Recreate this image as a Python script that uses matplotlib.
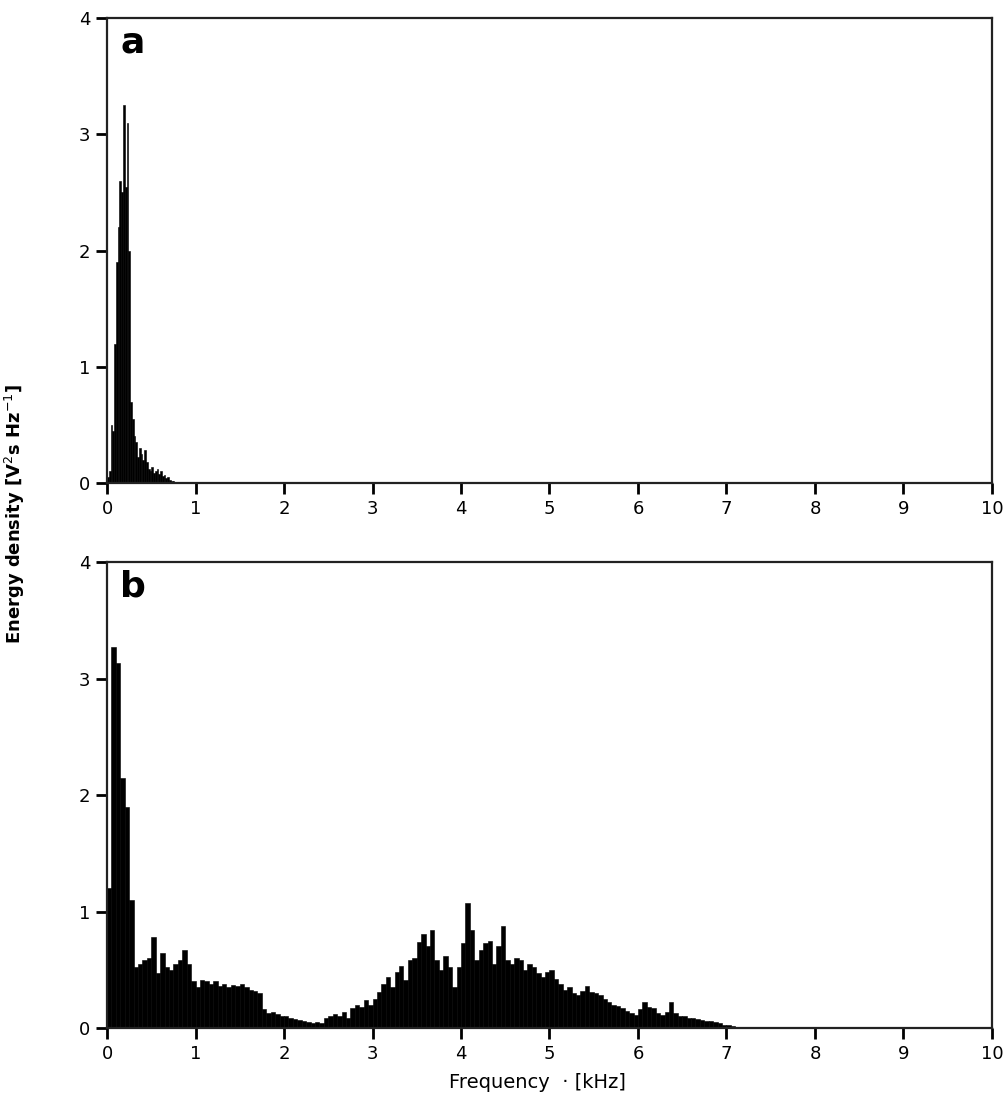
import matplotlib
matplotlib.use("Agg")
import matplotlib.pyplot as plt
import numpy as np

# panel a: energy density, 0.02 kHz bins starting at 0
step_a = 0.02
energy_a = [
    0.05, 0.1, 0.5, 0.45, 1.2, 1.9, 2.2, 2.6, 2.5, 3.25,
    2.55, 3.1, 2.0, 0.7, 0.55, 0.4, 0.35, 0.22, 0.3, 0.25,
    0.2, 0.28, 0.18, 0.12, 0.1, 0.14, 0.09, 0.1, 0.12, 0.08,
    0.1, 0.06, 0.07, 0.04, 0.05, 0.03, 0.02, 0.02, 0.01, 0.01,
]

# panel b: energy density, 0.05 kHz bins starting at 0
step_b = 0.05
energy_b = [
    1.2, 3.27, 3.13, 2.15, 1.9, 1.1, 0.52, 0.55, 0.58, 0.6,
    0.78, 0.47, 0.64, 0.52, 0.5, 0.55, 0.58, 0.67, 0.55, 0.4,
    0.35, 0.41, 0.4, 0.38, 0.4, 0.36, 0.38, 0.35, 0.37, 0.36,
    0.38, 0.35, 0.33, 0.32, 0.3, 0.16, 0.13, 0.14, 0.12, 0.1,
    0.1, 0.09, 0.08, 0.07, 0.06, 0.05, 0.04, 0.05, 0.04, 0.09,
    0.1, 0.12, 0.1, 0.14, 0.09, 0.17, 0.2, 0.18, 0.24, 0.2,
    0.25, 0.31, 0.38, 0.44, 0.35, 0.48, 0.53, 0.41, 0.58, 0.6,
    0.74, 0.81, 0.7, 0.84, 0.58, 0.5, 0.62, 0.52, 0.35, 0.52,
    0.73, 1.07, 0.84, 0.58, 0.67, 0.73, 0.75, 0.55, 0.7, 0.88,
    0.58, 0.55, 0.6, 0.58, 0.5, 0.55, 0.52, 0.47, 0.44, 0.48,
    0.5, 0.42, 0.38, 0.33, 0.35, 0.3, 0.28, 0.32, 0.36, 0.31,
    0.3, 0.28, 0.25, 0.22, 0.2, 0.19, 0.17, 0.15, 0.13, 0.11,
    0.16, 0.22, 0.18, 0.17, 0.13, 0.11, 0.14, 0.22, 0.13, 0.1,
    0.1, 0.09, 0.09, 0.08, 0.07, 0.06, 0.06, 0.05, 0.04, 0.03,
    0.03, 0.02,
]

x_ticks = list(range(0, 11))
y_ticks = [0, 1, 2, 3, 4]
panel_labels = ["a", "b"]

fig = plt.figure(figsize=(10.05, 11.06), dpi=100)
ax_a = fig.add_axes([0.1065, 0.5633, 0.8805, 0.4204])
ax_b = fig.add_axes([0.1065, 0.0705, 0.8805, 0.4213])

panels = [(ax_a, step_a, energy_a), (ax_b, step_b, energy_b)]
for (ax, step, energy), lab in zip(panels, panel_labels):
    freq = np.arange(len(energy)) * step
    ax.bar(freq, energy, width=step, align="edge", color="black",
           edgecolor="black", linewidth=0.4)
    ax.set_xlim(0, 10)
    ax.set_ylim(0, 4)
    ax.set_xticks(x_ticks)
    ax.set_yticks(y_ticks)
    ax.tick_params(direction="out", length=8, width=2, labelsize=13,
                   pad=4)
    for s in ax.spines.values():
        s.set_linewidth(1.6)
        s.set_color("#222222")
    ax.text(0.015, 0.985, lab, transform=ax.transAxes, fontsize=26,
            fontweight="bold", va="top", ha="left")

fig.text(0.015, 0.535, r"Energy density [V$^2$s Hz$^{-1}$]", rotation=90,
         ha="center", va="center", fontsize=13, fontweight="bold")
fig.text(0.535, 0.021, "Frequency  \u00b7 [kHz]", ha="center",
         va="center", fontsize=14)

fig.savefig("out.png", dpi=100)
